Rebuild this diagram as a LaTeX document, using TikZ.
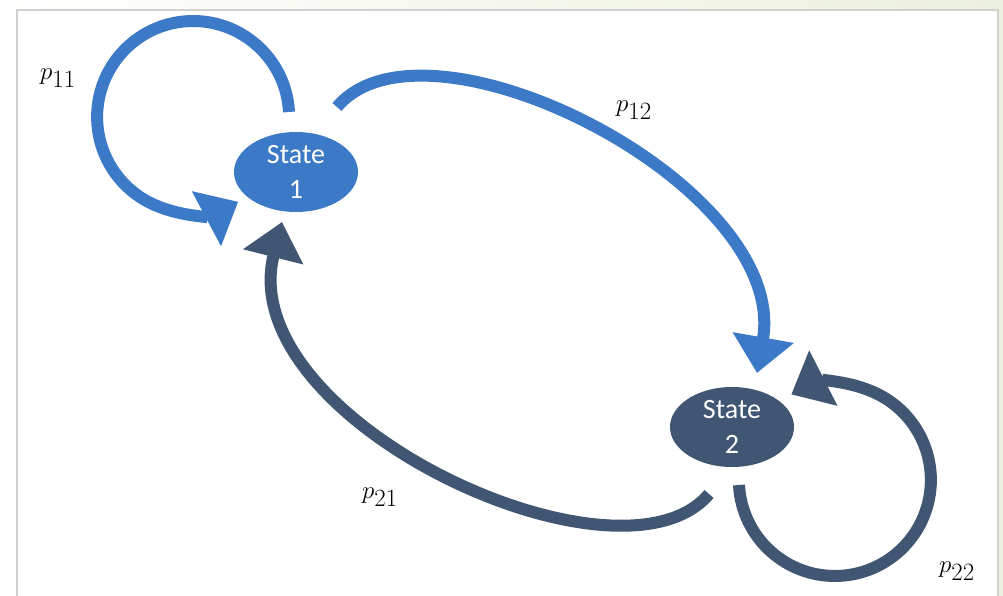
\documentclass[tikz,border=0pt]{standalone}
\usepackage{fontspec}
\setsansfont{Carlito}
\usetikzlibrary{arrows.meta,shapes.geometric}

\definecolor{stateblue}{RGB}{60,122,200}
\definecolor{stateslate}{RGB}{64,86,114}
\definecolor{framegray}{RGB}{208,208,208}
\definecolor{paper}{RGB}{236,240,222}

\begin{document}
\begin{tikzpicture}[x=1pt, y=1pt,
		state/.style={ellipse, minimum width=124pt, minimum height=80pt, inner sep=0pt,
			text=white, align=center, font=\sffamily\fontsize{28}{35}\selectfont},
		flow/.style={line width=12pt, -{Triangle[length=36pt, width=60pt]}},
		prob/.style={font=\fontsize{36}{40}\selectfont}]
		\useasboundingbox (0, 0) rectangle (1003, -596);
		\fill [left color=white, right color=paper] (0, 0) rectangle (1003, -596);
		\draw [framegray, line width=1.5pt, fill=white] (17, -10) rectangle (998, -610);

		\node [state, fill=stateblue] (s1) at (296, -172) {State\\1};
		\node [state, fill=stateslate] (s2) at (732, -427) {State\\2};

		% staying put
		\draw [flow, stateblue] ([shift={(-7, 60)}]s1.center) arc [start angle=3, end angle=298, radius=96];
		\draw [flow, stateslate] ([shift={(7, -58)}]s2.center) arc [start angle=183, end angle=477, radius=96];
		% switching
		\draw [flow, stateblue] ([shift={(41, 65)}]s1.center) .. controls (426, -1) and (790, -185) .. ([shift={(25, 54)}]s2.center);
		\draw [flow, stateslate] ([shift={(-23, -67)}]s2.center) .. controls (620, -600) and (232, -420) .. ([shift={(-14, -50)}]s1.center);

		\node [prob] (p11) at (58, -78) {$p_{11}$};
		\node [prob] (p12) at (634, -110) {$p_{12}$};
		\node [prob] (p21) at (380, -497) {$p_{21}$};
		\node [prob] (p22) at (957, -571) {$p_{22}$};
	\end{tikzpicture}
\end{document}
